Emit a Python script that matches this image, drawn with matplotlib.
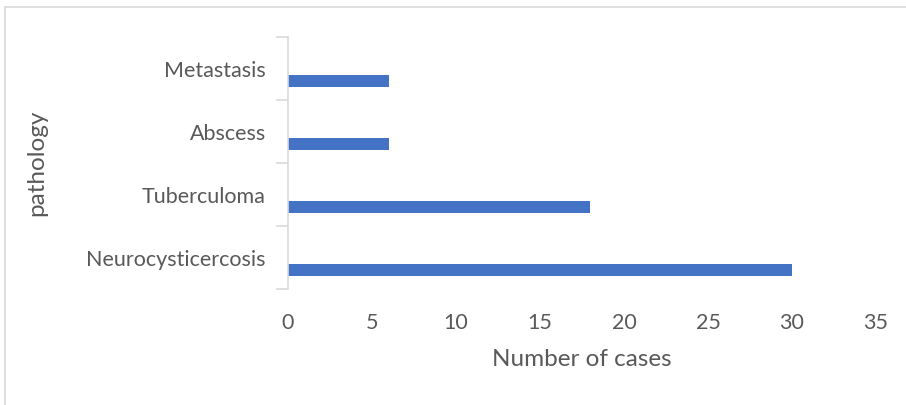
import numpy as np
import matplotlib.pyplot as plt
from matplotlib.patches import Rectangle

pathologies = ["Neurocysticercosis", "Tuberculoma", "Abscess", "Metastasis"]
cases = [30, 18, 6, 6]
xticks = [0, 5, 10, 15, 20, 25, 30, 35]

grey = "#595959"
plt.rcParams['font.family'] = ['Lato', 'DejaVu Sans']

fig = plt.figure(figsize=(9.06, 4.05), dpi=100)
ax = fig.add_axes([0.3179, 0.2864, 0.649, 0.6222])

# outer chart frame
fig.patches.append(Rectangle((5 / 906, -0.1), 1.2, 1 - 7 / 405 + 0.1,
                             transform=fig.transFigure, fill=False,
                             edgecolor="#d9d9d9", linewidth=1.2))

pos = np.arange(len(pathologies))
ax.barh(pos - 0.2, cases, height=0.2, color="#4472c4")

ax.set_xlim(0, 35)
ax.set_ylim(-0.5, len(pathologies) - 0.5)
ax.set_xticks(xticks)
ax.set_xticklabels([str(t) for t in xticks], fontsize=15.5, color=grey)
ax.set_yticks(pos)
ax.set_yticklabels(pathologies, fontsize=15.5, color=grey)
ax.set_yticks(np.arange(-0.5, len(pathologies)), minor=True)
ax.tick_params(axis='x', length=0, pad=17)
ax.tick_params(axis='y', which='major', length=0, pad=16)
ax.tick_params(axis='y', which='minor', length=9, color="#d9d9d9", width=1.2)

for s in ["top", "right", "bottom"]:
    ax.spines[s].set_visible(False)
ax.spines["left"].set_color("#d9d9d9")
ax.spines["left"].set_linewidth(1.2)

ax.set_xlabel("Number of cases", fontsize=17.5, color=grey, labelpad=12)
ax.set_ylabel("pathology", fontsize=17.5, color=grey)
ax.yaxis.set_label_coords(-0.41, 0.5)

fig.savefig("out.png", dpi=100)
